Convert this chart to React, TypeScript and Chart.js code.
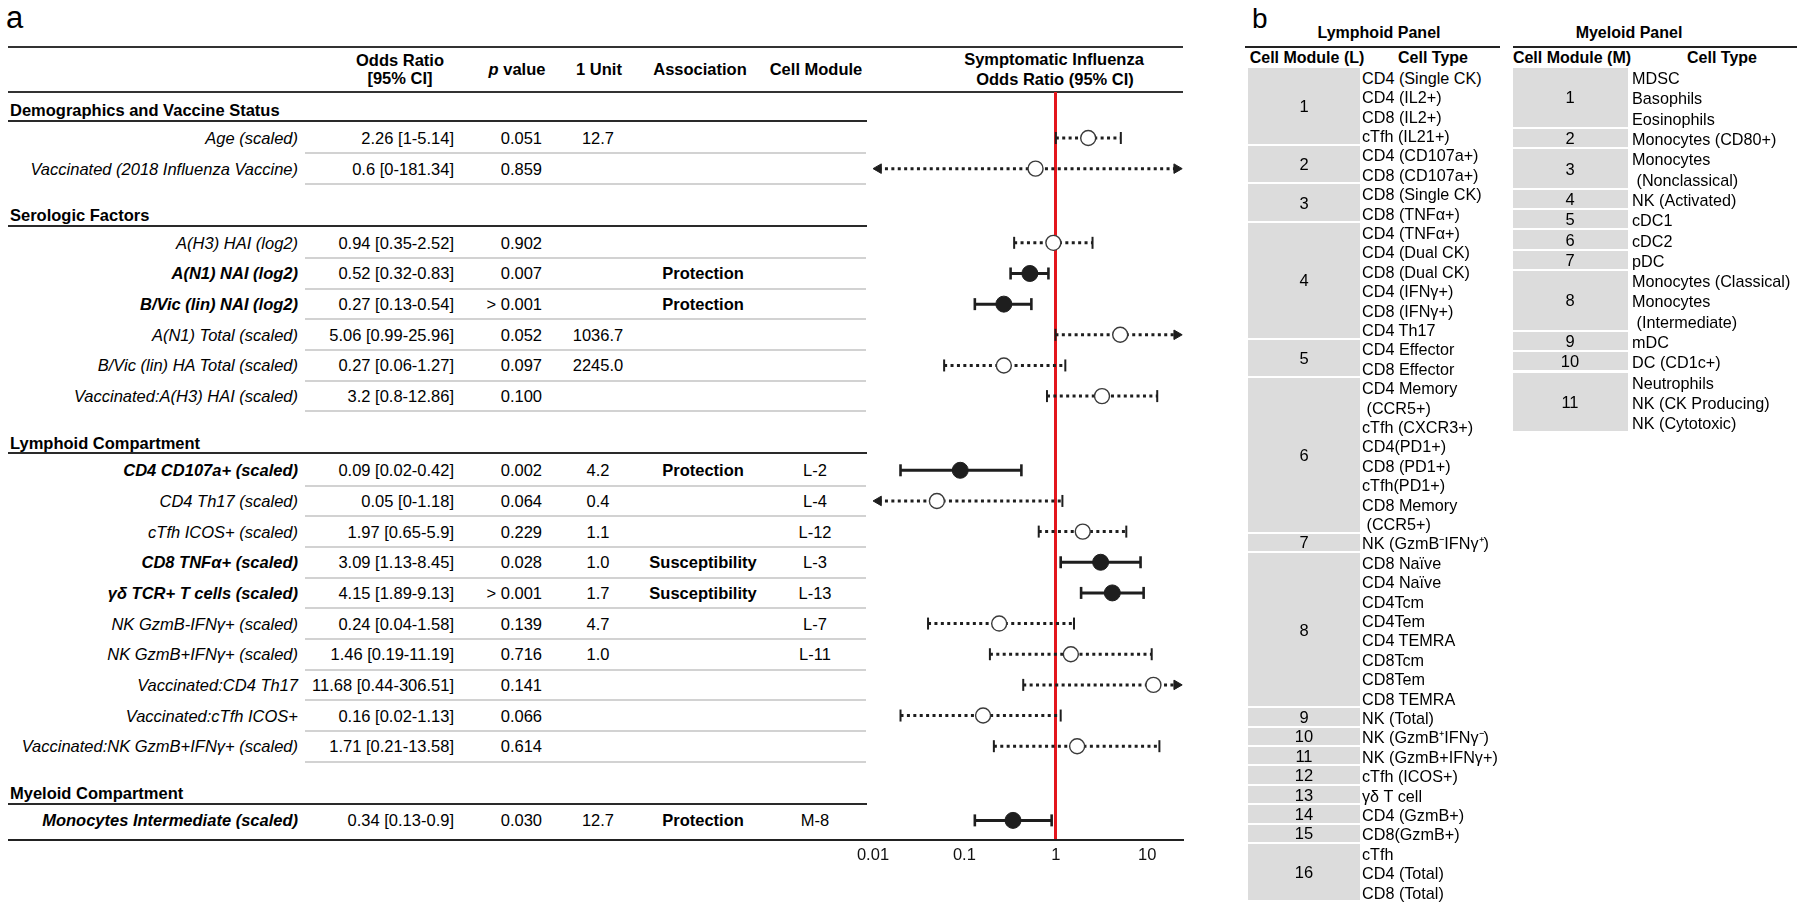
import React, { useEffect, useRef } from "react";
import { Chart, registerables } from "chart.js";
Chart.register(...registerables);

// ---------------- data (panel a) ----------------
const sectionTitles = [
  "Demographics and Vaccine Status",
  "Serologic Factors",
  "Lymphoid Compartment",
  "Myeloid Compartment",
];
const rowSection = [0, 0, 1, 1, 1, 1, 1, 1, 2, 2, 2, 2, 2, 2, 2, 2, 2, 2, 3];
const rowLabels = [
  "Age (scaled)",
  "Vaccinated (2018 Influenza Vaccine)",
  "A(H3) HAI (log2)",
  "A(N1) NAI (log2)",
  "B/Vic (lin) NAI (log2)",
  "A(N1) Total (scaled)",
  "B/Vic (lin) HA Total (scaled)",
  "Vaccinated:A(H3) HAI (scaled)",
  "CD4 CD107a+ (scaled)",
  "CD4 Th17 (scaled)",
  "cTfh ICOS+ (scaled)",
  "CD8 TNFα+ (scaled)",
  "γδ TCR+ T cells (scaled)",
  "NK GzmB-IFNγ+ (scaled)",
  "NK GzmB+IFNγ+ (scaled)",
  "Vaccinated:CD4 Th17",
  "Vaccinated:cTfh ICOS+",
  "Vaccinated:NK GzmB+IFNγ+ (scaled)",
  "Monocytes Intermediate (scaled)",
];
const oddsRatio = [2.26, 0.6, 0.94, 0.52, 0.27, 5.06, 0.27, 3.2, 0.09, 0.05, 1.97, 3.09, 4.15, 0.24, 1.46, 11.68, 0.16, 1.71, 0.34];
const ciLower = [1, 0, 0.35, 0.32, 0.13, 0.99, 0.06, 0.8, 0.02, 0, 0.65, 1.13, 1.89, 0.04, 0.19, 0.44, 0.02, 0.21, 0.13];
const ciUpper = [5.14, 181.34, 2.52, 0.83, 0.54, 25.96, 1.27, 12.86, 0.42, 1.18, 5.9, 8.45, 9.13, 1.58, 11.19, 306.51, 1.13, 13.58, 0.9];
const pValues = ["0.051", "0.859", "0.902", "0.007", "> 0.001", "0.052", "0.097", "0.100", "0.002", "0.064", "0.229", "0.028", "> 0.001", "0.139", "0.716", "0.141", "0.066", "0.614", "0.030"];
const oneUnit = ["12.7", "", "", "", "", "1036.7", "2245.0", "", "4.2", "0.4", "1.1", "1.0", "1.7", "4.7", "1.0", "", "", "", "12.7"];
const association = ["", "", "", "Protection", "Protection", "", "", "", "Protection", "", "", "Susceptibility", "Susceptibility", "", "", "", "", "", "Protection"];
const cellModule = ["", "", "", "", "", "", "", "", "L-2", "L-4", "L-12", "L-3", "L-13", "L-7", "L-11", "", "", "", "M-8"];
const xTickValues = [0.01, 0.1, 1, 10];
const xTickLabels = ["0.01", "0.1", "1", "10"];

// ---------------- data (panel b) ----------------
const lymphoidModules = ["1", "2", "3", "4", "5", "6", "7", "8", "9", "10", "11", "12", "13", "14", "15", "16"];
const lymphoidCellTypes = [
  ["CD4 (Single CK)", "CD4 (IL2+)", "CD8 (IL2+)", "cTfh (IL21+)"],
  ["CD4 (CD107a+)", "CD8 (CD107a+)"],
  ["CD8 (Single CK)", "CD8 (TNFα+)"],
  ["CD4 (TNFα+)", "CD4 (Dual CK)", "CD8 (Dual CK)", "CD4 (IFNγ+)", "CD8 (IFNγ+)", "CD4 Th17"],
  ["CD4 Effector", "CD8 Effector"],
  ["CD4 Memory", " (CCR5+)", "cTfh (CXCR3+)", "CD4(PD1+)", "CD8 (PD1+)", "cTfh(PD1+)", "CD8 Memory", " (CCR5+)"],
  ["NK (GzmB⁻IFNγ⁺)"],
  ["CD8 Naïve", "CD4 Naïve", "CD4Tcm", "CD4Tem", "CD4 TEMRA", "CD8Tcm", "CD8Tem", "CD8 TEMRA"],
  ["NK (Total)"],
  ["NK (GzmB⁺IFNγ⁻)"],
  ["NK (GzmB+IFNγ+)"],
  ["cTfh (ICOS+)"],
  ["γδ T cell"],
  ["CD4 (GzmB+)"],
  ["CD8(GzmB+)"],
  ["cTfh", "CD4 (Total)", "CD8 (Total)"],
];
const myeloidModules = ["1", "2", "3", "4", "5", "6", "7", "8", "9", "10", "11"];
const myeloidCellTypes = [
  ["MDSC", "Basophils", "Eosinophils"],
  ["Monocytes (CD80+)"],
  ["Monocytes", " (Nonclassical)"],
  ["NK (Activated)"],
  ["cDC1"],
  ["cDC2"],
  ["pDC"],
  ["Monocytes (Classical)", "Monocytes", " (Intermediate)"],
  ["mDC"],
  ["DC (CD1c+)"],
  ["Neutrophils", "NK (CK Producing)", "NK (Cytotoxic)"],
];

// ---------------- layout ----------------
const FONT = '"Liberation Sans", Arial, Helvetica, sans-serif';
const FS = 16.5;
const RED = "#e3161d";
const INK = "#1e1e1e";
const X_MIN = 0.01;
const X_MAX = 24;
const ARROW_LO = 0.0115;
const ARROW_HI = 21;
const Y_MIN = -1.5;
const Y_MAX = 22.9;
const SECTION_GAP = 2.42;
const CANVAS_LEFT = 840;
const CANVAS_TOP = 82;
const CANVAS_W = 370;
const CANVAS_H = 788;
const PAD_L = 33;
const PAD_R = 28;
const PAD_T = 10;
const XAXIS_H = 30;
const PLOT_TOP = CANVAS_TOP + PAD_T;
const PLOT_BOTTOM = CANVAS_TOP + CANVAS_H - XAXIS_H;
const PLOT_LEFT = CANVAS_LEFT + PAD_L;

const isSig = association.map((a) => a !== "");
const rowPos: number[] = [];
rowSection.forEach((s, i) => {
  if (i === 0) rowPos.push(0);
  else rowPos.push(rowPos[i - 1] + (s !== rowSection[i - 1] ? SECTION_GAP : 1));
});
const rowY = (p: number) => PLOT_TOP + ((p - Y_MIN) * (PLOT_BOTTOM - PLOT_TOP)) / (Y_MAX - Y_MIN);
const ROW_U = (PLOT_BOTTOM - PLOT_TOP) / (Y_MAX - Y_MIN);

type Align = "left" | "right" | "center";
function T(props: { x: number; y: number; align?: Align; fs?: number; bold?: boolean; italic?: boolean; children: React.ReactNode }) {
  const { x, y, align = "left", fs = FS, bold, italic, children } = props;
  const w = 600;
  const left = align === "left" ? x : align === "right" ? x - w : x - w / 2;
  return (
    <div
      style={{
        position: "absolute",
        left,
        top: y - 12,
        width: w,
        height: 24,
        lineHeight: "24px",
        textAlign: align,
        whiteSpace: "pre",
        fontSize: fs,
        fontWeight: bold ? 700 : 400,
        fontStyle: italic ? "italic" : "normal",
        color: "#000",
      }}
    >
      {children}
    </div>
  );
}
function HLine(props: { x1: number; x2: number; y: number; w?: number; color?: string }) {
  const { x1, x2, y, w = 2, color = "#333" } = props;
  return <div style={{ position: "absolute", left: x1, top: y - w / 2, width: x2 - x1, height: w, background: color }} />;
}

function CellPanel(props: {
  title: string;
  modHeader: string;
  titleX: number;
  lineX1: number;
  lineX2: number;
  modHeaderX: number;
  typeHeaderX: number;
  grayX1: number;
  grayX2: number;
  numX: number;
  textX: number;
  lineH: number;
  modules: string[];
  types: string[][];
}) {
  const p = props;
  const top0 = 68;
  const items: React.ReactNode[] = [];
  let line = 0;
  p.modules.forEach((m, gi) => {
    const n = p.types[gi].length;
    const y0 = top0 + line * p.lineH;
    items.push(
      <div
        key={"g" + gi}
        style={{ position: "absolute", left: p.grayX1, top: y0, width: p.grayX2 - p.grayX1, height: n * p.lineH - 2, background: "#dcdcdc" }}
      />
    );
    items.push(
      <T key={"n" + gi} x={p.numX} y={y0 + (n * p.lineH) / 2 - 1} align="center" fs={16.5}>
        {m}
      </T>
    );
    p.types[gi].forEach((t, k) => {
      items.push(
        <T key={"t" + gi + "-" + k} x={p.textX} y={y0 + (k + 0.5) * p.lineH} fs={16.2}>
          {t}
        </T>
      );
    });
    line += n;
  });
  return (
    <>
      <T x={p.titleX} y={33} align="center" fs={16} bold>
        {p.title}
      </T>
      <HLine x1={p.lineX1} x2={p.lineX2} y={47} w={2} color="#222" />
      <T x={p.modHeaderX} y={58} align="center" fs={16} bold>
        {p.modHeader}
      </T>
      <T x={p.typeHeaderX} y={58} align="center" fs={16} bold>
        Cell Type
      </T>
      {items}
    </>
  );
}

export default function App() {
  const canvasRef = useRef<HTMLCanvasElement | null>(null);

  useEffect(() => {
    const canvas = canvasRef.current;
    if (!canvas) return;
    const datasets: any[] = [];
    datasets.push({
      type: "scatter",
      order: 0,
      data: oddsRatio.map((v, i) => ({ x: v, y: rowPos[i] })),
      pointRadius: isSig.map((s) => (s ? 8 : 7.5)),
      pointBackgroundColor: isSig.map((s) => (s ? INK : "#ffffff")),
      pointBorderColor: isSig.map((s) => (s ? INK : "#3a3a3a")),
      pointBorderWidth: isSig.map((s) => (s ? 1 : 1.4)),
      clip: false,
    });
    rowLabels.forEach((_, i) => {
      const s = isSig[i];
      const loA = ciLower[i] < X_MIN;
      const hiA = ciUpper[i] > X_MAX;
      const capW = s ? 2.6 : 2;
      datasets.push({
        type: "line",
        order: 1,
        data: [
          { x: loA ? ARROW_LO : ciLower[i], y: rowPos[i] },
          { x: hiA ? ARROW_HI : ciUpper[i], y: rowPos[i] },
        ],
        borderColor: INK,
        borderWidth: 3,
        borderDash: s ? [] : [3, 3.4],
        borderCapStyle: "butt",
        tension: 0,
        pointStyle: [loA ? "triangle" : "line", hiA ? "triangle" : "line"],
        pointRotation: [loA ? 270 : 90, 90],
        pointRadius: [loA ? 5.5 : 6, hiA ? 5.5 : 6],
        pointBorderWidth: [loA ? 1 : capW, hiA ? 1 : capW],
        pointBackgroundColor: INK,
        pointBorderColor: INK,
        clip: false,
      });
    });

    const chart = new Chart(canvas, {
      type: "scatter",
      data: { datasets },
      options: {
        animation: false,
        responsive: true,
        maintainAspectRatio: false,
        events: [],
        layout: { padding: { left: PAD_L, right: PAD_R, top: PAD_T, bottom: 0 }, autoPadding: false } as any,
        plugins: { legend: { display: false }, tooltip: { enabled: false } },
        scales: {
          x: {
            type: "logarithmic",
            min: X_MIN,
            max: X_MAX,
            position: "bottom",
            afterBuildTicks: (scale: any) => {
              scale.ticks = xTickValues.map((v) => ({ value: v }));
            },
            afterFit: (scale: any) => {
              scale.height = XAXIS_H;
            },
            ticks: {
              autoSkip: false,
              maxRotation: 0,
              padding: 6,
              color: "#111",
              font: { family: FONT, size: FS },
              callback: (_v: any, i: number) => xTickLabels[i],
            },
            grid: {
              drawTicks: false,
              lineWidth: 3,
              color: (c: any) => (c.tick && c.tick.value === 1 ? RED : "rgba(0,0,0,0)"),
            },
            border: { display: true, color: "#222", width: 2 },
          } as any,
          y: { type: "linear", min: Y_MIN, max: Y_MAX, reverse: true, display: false },
        },
      },
    });
    return () => chart.destroy();
  }, []);

  // panel a table elements
  const els: React.ReactNode[] = [];
  rowLabels.forEach((lab, i) => {
    const y = rowY(rowPos[i]);
    const s = isSig[i];
    const lo = ciLower[i];
    const hi = ciUpper[i];
    els.push(
      <T key={"l" + i} x={298} y={y} align="right" italic bold={s}>
        {lab}
      </T>
    );
    els.push(
      <T key={"o" + i} x={454} y={y} align="right">
        {`${oddsRatio[i]} [${lo}-${hi}]`}
      </T>
    );
    els.push(
      <T key={"p" + i} x={542} y={y} align="right">
        {pValues[i]}
      </T>
    );
    if (oneUnit[i])
      els.push(
        <T key={"u" + i} x={598} y={y} align="center">
          {oneUnit[i]}
        </T>
      );
    if (association[i])
      els.push(
        <T key={"a" + i} x={703} y={y} align="center" bold>
          {association[i]}
        </T>
      );
    if (cellModule[i])
      els.push(
        <T key={"m" + i} x={815} y={y} align="center">
          {cellModule[i]}
        </T>
      );
    const last = i === rowLabels.length - 1;
    if (!last) els.push(<HLine key={"g" + i} x1={305} x2={866} y={y + ROW_U * 0.5} w={2} color="#d2d2d2" />);
  });
  sectionTitles.forEach((t, si) => {
    const first = rowSection.indexOf(si);
    const y = rowY(rowPos[first]);
    els.push(
      <T key={"s" + si} x={10} y={y - ROW_U * 0.9} bold>
        {t}
      </T>
    );
    els.push(<HLine key={"sl" + si} x1={8} x2={867} y={y - ROW_U * 0.55} w={2} color="#2a2a2a" />);
  });

  return (
    <div
      style={{
        position: "absolute",
        left: 0,
        top: 0,
        width: 1800,
        height: 908,
        overflow: "hidden",
        background: "#fff",
        fontFamily: FONT,
        color: "#000",
      }}
    >
      <div style={{ position: "absolute", left: 6, top: 2, fontSize: 31, lineHeight: "31px", fontFamily: FONT }}>a</div>
      <div style={{ position: "absolute", left: 1252, top: 5, fontSize: 28, lineHeight: "28px", fontFamily: FONT }}>b</div>

      {/* panel a header */}
      <HLine x1={8} x2={1183} y={47} w={2} color="#333" />
      <HLine x1={8} x2={1183} y={92} w={2} color="#333" />
      <T x={400} y={60} align="center" bold>
        Odds Ratio
      </T>
      <T x={400} y={78} align="center" bold>
        [95% CI]
      </T>
      <T x={517} y={69} align="center" bold>
        <i>p</i> value
      </T>
      <T x={599} y={69} align="center" bold>
        1 Unit
      </T>
      <T x={700} y={69} align="center" bold>
        Association
      </T>
      <T x={816} y={69} align="center" bold>
        Cell Module
      </T>
      <T x={1054} y={59} align="center" bold>
        Symptomatic Influenza
      </T>
      <T x={1055} y={79} align="center" bold>
        Odds Ratio (95% CI)
      </T>
      {els}
      <HLine x1={8} x2={PLOT_LEFT} y={PLOT_BOTTOM} w={2} color="#222" />

      <div style={{ position: "absolute", left: CANVAS_LEFT, top: CANVAS_TOP, width: CANVAS_W, height: CANVAS_H }}>
        <canvas ref={canvasRef} />
      </div>

      {/* panel b */}
      <CellPanel
        title="Lymphoid Panel"
        modHeader="Cell Module (L)"
        titleX={1379}
        lineX1={1245}
        lineX2={1500}
        modHeaderX={1307}
        typeHeaderX={1433}
        grayX1={1248}
        grayX2={1360}
        numX={1304}
        textX={1362}
        lineH={19.4}
        modules={lymphoidModules}
        types={lymphoidCellTypes}
      />
      <CellPanel
        title="Myeloid Panel"
        modHeader="Cell Module (M)"
        titleX={1629}
        lineX1={1513}
        lineX2={1797}
        modHeaderX={1572}
        typeHeaderX={1722}
        grayX1={1513}
        grayX2={1628}
        numX={1570}
        textX={1632}
        lineH={20.3}
        modules={myeloidModules}
        types={myeloidCellTypes}
      />
    </div>
  );
}
